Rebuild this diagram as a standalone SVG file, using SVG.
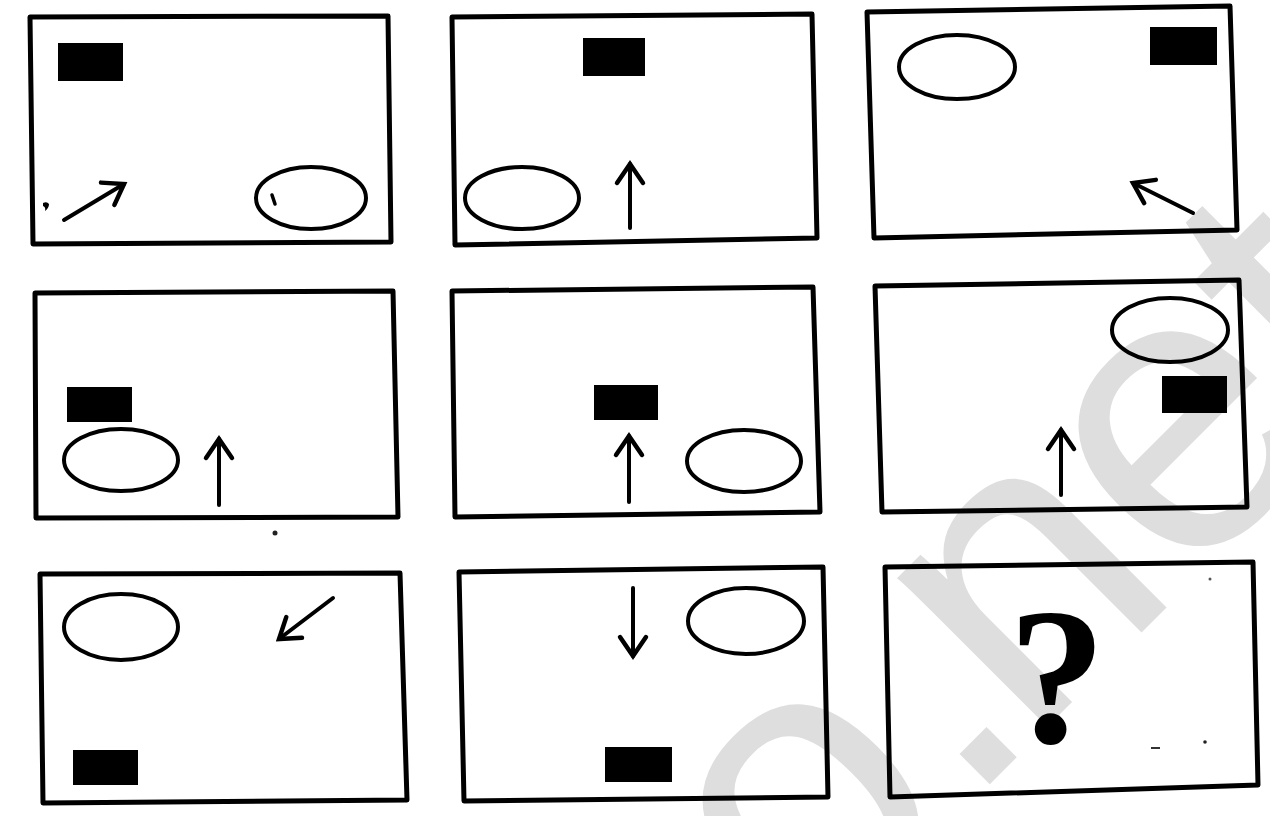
<svg xmlns="http://www.w3.org/2000/svg" width="1270" height="816" viewBox="0 0 1270 816">
<defs>
<style>
.frame{fill:none;stroke:#000;stroke-width:5;stroke-linejoin:round}
.blk{fill:#000}
.ov{fill:none;stroke:#000;stroke-width:4}
.arr{fill:none;stroke:#000;stroke-width:4;stroke-linecap:round;marker-end:url(#head)}
.wm{fill:#dedede;font-family:"Liberation Sans",Arial,sans-serif;font-size:400px}
.q{fill:#000;font-family:"Liberation Serif","Times New Roman",serif;font-weight:bold;font-size:196px}
</style>
<marker id="head" viewBox="-24 -17 28 34" refX="0" refY="0" markerWidth="28" markerHeight="34" markerUnits="userSpaceOnUse" orient="auto">
<path d="M-19,-13 L0,0 L-19,13" fill="none" stroke="#000" stroke-width="4.5" stroke-linejoin="miter" stroke-linecap="round"/>
</marker>
</defs>
<rect width="1270" height="816" fill="#fff"/>
<g id="watermark">
<text class="wm" transform="translate(807,967) rotate(-45)" x="0 222 312 530 752" y="0">o.net</text>
</g>
<g id="panel1">
<polygon class="frame" points="30,17 388,16 391,242 33,244"/>
<rect class="blk" x="58" y="43" width="65" height="38"/>
<ellipse class="ov" cx="311" cy="198" rx="55" ry="31"/>
<path d="M272,195 L275,204" stroke="#000" stroke-width="3.5" stroke-linecap="round"/>
<path d="M43,203 q4,-2 6,1 q0,4 -4,7 q1,-4 -2,-5 z" fill="#000"/>
</g>
<g id="panel2">
<polygon class="frame" points="452,17 812,14 817,238 455,245"/>
<rect class="blk" x="583" y="38" width="62" height="38"/>
<ellipse class="ov" cx="522" cy="198" rx="57" ry="31"/>
</g>
<g id="panel3">
<polygon class="frame" points="867,12 1230,6 1237,230 874,238"/>
<rect class="blk" x="1150" y="27" width="67" height="38"/>
<ellipse class="ov" cx="957" cy="67" rx="58" ry="32"/>
</g>
<g id="panel4">
<polygon class="frame" points="35,293 393,291 398,517 36,518"/>
<rect class="blk" x="67" y="387" width="65" height="35"/>
<ellipse class="ov" cx="121" cy="460" rx="57" ry="31"/>
</g>
<g id="panel5">
<polygon class="frame" points="452,291 813,287 820,512 455,517"/>
<rect class="blk" x="594" y="385" width="64" height="35"/>
<ellipse class="ov" cx="744" cy="461" rx="57" ry="31"/>
</g>
<g id="panel6">
<polygon class="frame" points="875,286 1239,280 1247,507 882,512"/>
<ellipse class="ov" cx="1170" cy="330" rx="58" ry="32"/>
<rect class="blk" x="1162" y="376" width="65" height="37"/>
</g>
<g id="panel7">
<polygon class="frame" points="40,574 400,573 407,800 43,803"/>
<ellipse class="ov" cx="121" cy="627" rx="57" ry="33"/>
<rect class="blk" x="73" y="750" width="65" height="35"/>
</g>
<g id="panel8">
<polygon class="frame" points="459,572 823,567 828,797 464,801"/>
<ellipse class="ov" cx="746" cy="621" rx="58" ry="33"/>
<rect class="blk" x="605" y="747" width="67" height="35"/>
</g>
<g id="panel9">
<polygon class="frame" points="885,567 1253,562 1258,785 890,797"/>
<text class="q" x="1057" y="742" text-anchor="middle">?</text>
<path d="M1151,748 L1160,748" stroke="#333" stroke-width="2"/>
<circle cx="1205" cy="742" r="1.8" fill="#222"/>
<circle cx="1210" cy="579" r="1.5" fill="#555"/>
</g>
<g id="connectors">
<line class="arr" x1="64" y1="220" x2="124" y2="184"/>
<line class="arr" x1="630" y1="228" x2="630" y2="164"/>
<line class="arr" x1="1193" y1="213" x2="1133" y2="183"/>
<line class="arr" x1="219" y1="505" x2="219" y2="439"/>
<line class="arr" x1="629" y1="502" x2="629" y2="436"/>
<line class="arr" x1="1061" y1="495" x2="1061" y2="430"/>
<line class="arr" x1="333" y1="598" x2="279" y2="639"/>
<line class="arr" x1="633" y1="588" x2="633" y2="656"/>
</g>
<circle cx="275" cy="533" r="2.5" fill="#222"/>
</svg>
